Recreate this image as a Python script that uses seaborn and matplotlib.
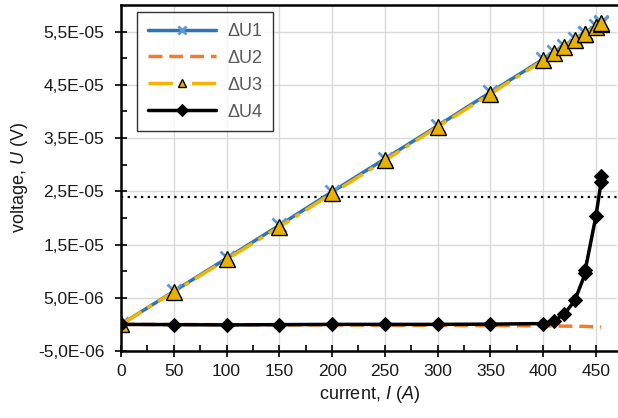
import numpy as np
import pandas as pd
import matplotlib
matplotlib.use("Agg")
import matplotlib.pyplot as plt
from matplotlib.ticker import FixedLocator, MultipleLocator, FuncFormatter
import seaborn as sns

# values
current = [0, 50, 100, 150, 200, 250, 300, 350, 400, 410, 420, 430, 440, 440, 450, 455, 455]
du1 = [0.0, 6.2e-6, 1.24e-5, 1.86e-5, 2.49e-5, 3.11e-5, 3.73e-5, 4.36e-5, 4.98e-5,
       5.11e-5, 5.23e-5, 5.36e-5, 5.48e-5, 5.48e-5, 5.61e-5, 5.67e-5, 5.68e-5]
du2 = [0.0, -2e-8, -5e-8, -8e-8, -1.1e-7, -1.4e-7, -1.8e-7, -2.2e-7, -2.8e-7,
       -3.0e-7, -3.2e-7, -3.5e-7, -3.9e-7, -3.9e-7, -4.4e-7, -4.8e-7, -4.8e-7]
du3 = [0.0, 6.1e-6, 1.22e-5, 1.83e-5, 2.46e-5, 3.08e-5, 3.71e-5, 4.33e-5, 4.96e-5,
       5.09e-5, 5.21e-5, 5.34e-5, 5.46e-5, 5.46e-5, 5.59e-5, 5.65e-5, 5.66e-5]
du4 = [0.0, -5e-8, -1e-7, -5e-8, 0.0, 0.0, 0.0, 5e-8, 1.5e-7,
       6.5e-7, 1.9e-6, 4.5e-6, 9.6e-6, 1.03e-5, 2.03e-5, 2.68e-5, 2.78e-5]
threshold = 2.4e-5
labels = ["ΔU1", "ΔU2", "ΔU3", "ΔU4"]

df = pd.DataFrame({"current": current, "ΔU1": du1, "ΔU2": du2, "ΔU3": du3, "ΔU4": du4})

sns.set_theme(style="white")
plt.rcParams["font.family"] = ["Liberation Sans", "DejaVu Sans"]
plt.rcParams["mathtext.fontset"] = "custom"
plt.rcParams["mathtext.rm"] = "Liberation Sans"
plt.rcParams["mathtext.it"] = "Liberation Sans:italic"

fig, ax = plt.subplots(figsize=(6.18, 4.18), dpi=100)
fig.subplots_adjust(left=121 / 618, right=617 / 618, top=1 - 5 / 418, bottom=1 - 351 / 418)

common = dict(ax=ax, x="current", estimator=None, sort=False, legend=False)
sns.lineplot(data=df, y="ΔU1", color="#2E75B6", lw=2.5, marker="x", ms=10,
             mew=2, mec="#5B9BD5", **common)
sns.lineplot(data=df, y="ΔU2", color="#ED7D31", lw=2.5, **common)
ax.lines[-1].set_dashes([4, 2])
sns.lineplot(data=df, y="ΔU3", color="#F2B400", lw=2.5, marker="^", ms=11,
             mfc="#E8B000", mec="black", mew=1, **common)
ax.lines[-1].set_dashes([7, 2, 1.5, 2])
sns.lineplot(data=df, y="ΔU4", color="black", lw=2.5, marker="D", ms=7.5,
             mfc="black", mec="black", **common)
ax.axhline(threshold, color="black", ls=(0, (1, 2)), lw=1.6, zorder=1)

for line, lab in zip(ax.lines[:4], labels):
    line.set_label(lab)

ax.set_xlim(0, 470)
ax.set_ylim(-5e-6, 6e-5)
ax.xaxis.set_major_locator(MultipleLocator(50))
ax.xaxis.set_minor_locator(MultipleLocator(25))
ax.yaxis.set_major_locator(FixedLocator(np.arange(-5e-6, 5.6e-5, 1e-5)))
ax.yaxis.set_minor_locator(FixedLocator(np.arange(0, 5.1e-5, 1e-5)))
ax.yaxis.set_major_formatter(FuncFormatter(lambda v, p: f"{v:.1E}".replace(".", ",")))
ax.grid(True, which="major", color="#D9D9D9", lw=1)
ax.set_axisbelow(True)

ax.tick_params(which="major", direction="inout", length=8, width=1.2, color="black",
               labelsize=12.5, labelcolor="#1a1a1a")
ax.tick_params(which="minor", direction="in", length=4, width=1.2, color="black")
ax.tick_params(axis="y", which="major", pad=8)
ax.tick_params(axis="x", which="major", pad=5)
ax.tick_params(bottom=True, left=True, which="both")

for side in ["left", "bottom", "top"]:
    ax.spines[side].set_color("black")
    ax.spines[side].set_linewidth(1.8)
ax.spines["right"].set_visible(False)

ax.set_xlabel(r"current, $\it{I\ (A)}$", fontsize=13, color="#1a1a1a", labelpad=4)
ax.set_ylabel(r"voltage, $\it{U}$ (V)", fontsize=13, color="#1a1a1a", labelpad=6)

leg = ax.legend(loc="upper left", bbox_to_anchor=(137 / 618, 1 - 12 / 418),
                bbox_transform=fig.transFigure, fontsize=13, handlelength=3.8,
                frameon=True, fancybox=False, borderpad=0.6, labelspacing=0.55,
                handletextpad=0.6, borderaxespad=0)
leg.get_frame().set_edgecolor("black")
leg.get_frame().set_linewidth(1)
for t in leg.get_texts():
    t.set_color("#595959")
for h in leg.legend_handles:
    h.set_markersize(6)

plt.savefig("out.png", dpi=100)
plt.close()
